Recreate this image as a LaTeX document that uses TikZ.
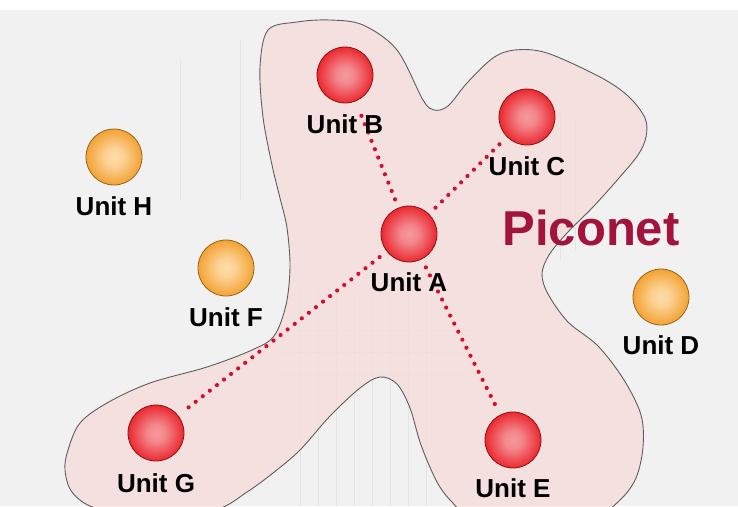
\documentclass[tikz,border=0pt]{standalone}
\usepackage{fontspec}
\setmainfont{Liberation Sans}
\definecolor{bgc}{HTML}{F1F1F1}
\definecolor{gridc}{HTML}{E4E4E4}
\definecolor{blobfill}{HTML}{F8DADA}
\definecolor{blobline}{HTML}{5E5E5E}
\definecolor{redin}{HTML}{F49A9E}
\definecolor{redout}{HTML}{EA1820}
\definecolor{redrim}{HTML}{8E1212}
\definecolor{orin}{HTML}{FDDCAA}
\definecolor{orout}{HTML}{F29A22}
\definecolor{orrim}{HTML}{9A6418}
\definecolor{linkred}{HTML}{D0102E}
\definecolor{picored}{HTML}{A2143C}
\pgfdeclareradialshading{redball}{\pgfpoint{0bp}{0bp}}{color(0bp)=(redin); color(8bp)=(redin!85!redout); color(28bp)=(redout); color(35bp)=(redout!88!black); color(50bp)=(redout!88!black)}
\pgfdeclareradialshading{orball}{\pgfpoint{0bp}{0bp}}{color(0bp)=(orin); color(8bp)=(orin!85!orout); color(28bp)=(orout); color(35bp)=(orout!92!black); color(50bp)=(orout!92!black)}
\pgfdeclarelayer{back}
\pgfdeclarelayer{mid}
\pgfsetlayers{back,mid,main}
\tikzset{
  redunit/.style={circle, minimum size=56pt, inner sep=0pt, shading=redball, draw=redrim, line width=0.8pt},
  orunit/.style={circle, minimum size=56pt, inner sep=0pt, shading=orball, draw=orrim, line width=0.8pt},
  lbl/.style={font=\fontsize{26}{30}\selectfont\bfseries, text=black, anchor=base, inner sep=0pt},
  link/.style={draw=linkred, line width=4.2pt, line cap=round, dash pattern=on 0pt off 9pt, shorten <=9pt, shorten >=10pt},
  faint/.style={draw=gridc, line width=1pt}
}
\begin{document}
\begin{tikzpicture}[x=1pt,y=-1pt]
\useasboundingbox (0,0) rectangle (738,506);
\clip (0,0) rectangle (738,506);
\begin{pgfonlayer}{back}
\fill[bgc] (0,0) rectangle (738,506);
\fill[white] (0,0) rectangle (738,10);
% faint background texture
\foreach \xx in {300,318,336,354,372,390,408,426} \draw[faint] (\xx,290) -- (\xx,506);
\foreach \yy in {330,352,374} \draw[faint] (280,\yy) -- (470,\yy);
\draw[faint] (560,110) -- (560,260);
\draw[faint] (575,120) -- (575,250);
\draw[faint] (240,40) -- (240,200);
\draw[faint] (180,60) -- (180,200);
\draw[blobline, fill=blobfill, fill opacity=0.7, line width=0.9pt] plot[smooth cycle, tension=0.55] coordinates {
 (268,30) (297,22) (330,20) (363,25) (397,50) (423,100) (434,110) (448,106)
 (467,83) (493,58) (515,50) (547,53) (600,77) (628,96) (645,118) (646,137)
 (638,155) (619,178) (593,207) (567,233) (549,255) (542,274) (548,294)
 (568,322) (598,346) (624,380) (641,415) (643,447) (636,478) (620,500)
 (595,516) (530,525) (470,515) (452,502) (437,482) (421,445) (410,408)
 (397,384) (380,377) (360,388) (330,416) (300,450) (273,473) (247,492)
 (215,510) (150,518) (95,508) (72,492) (65,470) (68,450) (80,423)
 (107,403) (150,383) (207,367) (252,350) (274,336) (286,305) (290,267)
 (287,228) (280,198) (272,165) (263,117) (260,67)};
\end{pgfonlayer}
% units
\node[redunit] (A) at (409,234) {};
\node[redunit] (B) at (345,75) {};
\node[redunit] (C) at (527,117) {};
\node[redunit] (E) at (513,440) {};
\node[redunit] (G) at (156,433) {};
\node[orunit] (D) at (661,297) {};
\node[orunit] (F) at (226,268) {};
\node[orunit] (H) at (114,157) {};
% labels
\node[lbl] (lA) at ([yshift=-57pt]A.center) {Unit A};
\node[lbl] (lB) at ([yshift=-58pt]B.center) {Unit B};
\node[lbl] (lC) at ([yshift=-58pt]C.center) {Unit C};
\node[lbl] (lD) at ([yshift=-57pt]D.center) {Unit D};
\node[lbl] (lE) at ([yshift=-57pt]E.center) {Unit E};
\node[lbl] (lF) at ([yshift=-58pt]F.center) {Unit F};
\node[lbl] (lG) at ([yshift=-59pt]G.center) {Unit G};
\node[lbl] (lH) at ([yshift=-58pt]H.center) {Unit H};
\node[font=\fontsize{49}{56}\selectfont\bfseries, text=picored, anchor=base, inner sep=0pt] (pico) at (591,245) {Piconet};
% links
\begin{pgfonlayer}{mid}
\draw[link] (A) -- (B);
\draw[link] (A) -- (C);
\draw[link] (A) -- (E);
\draw[link] (A) -- (G);
\end{pgfonlayer}
\end{tikzpicture}
\end{document}
